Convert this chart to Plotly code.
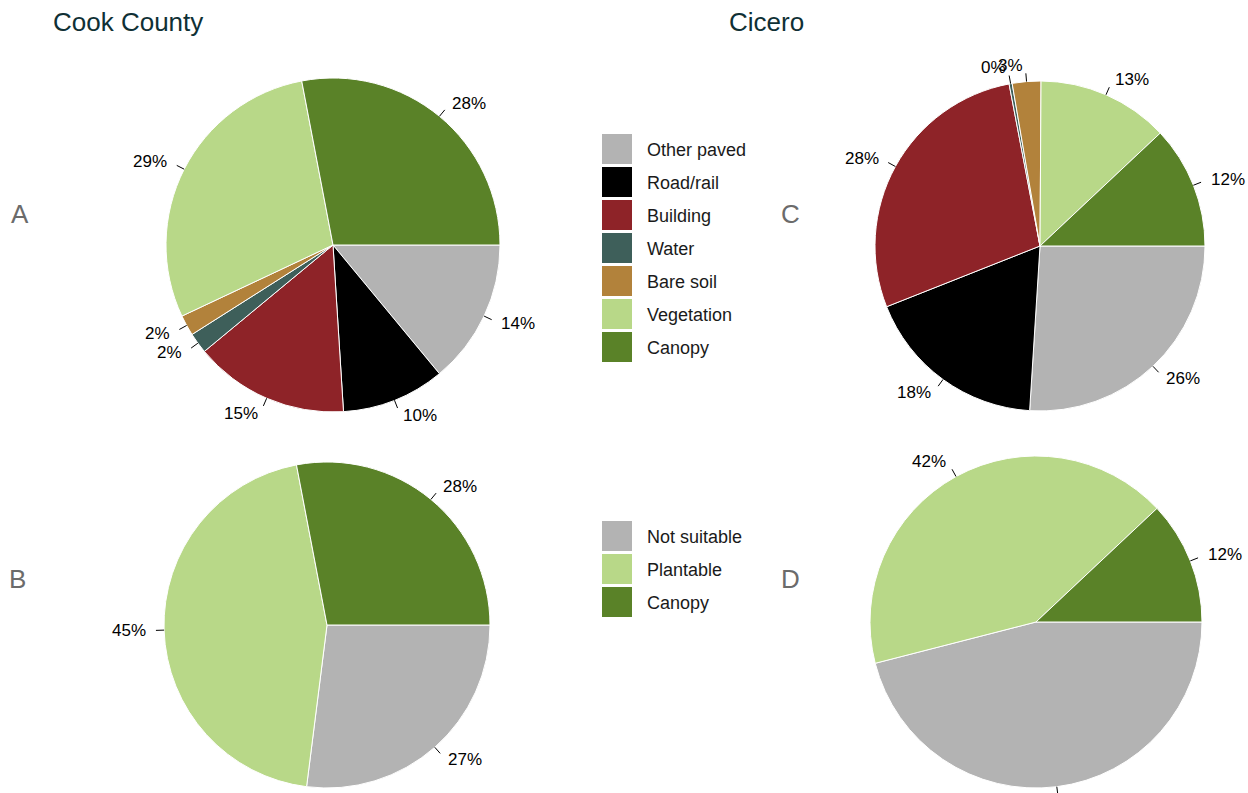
import math

import plotly.graph_objects as go

W, H = 1248, 793

# land cover categories (panels A and C)
COVER_LABELS = ['Other paved', 'Road/rail', 'Building', 'Water',
                'Bare soil', 'Vegetation', 'Canopy']
COVER_COLORS = ['#b3b3b3', '#000000', '#8e2328', '#3e5f5a',
                '#b2823b', '#b8d888', '#5a8228']
cook_cover = [14, 10, 15, 2, 2, 29, 28]
cicero_cover = [26, 18, 28, 0.3, 2.8, 12.9, 12]

# planting potential categories (panels B and D)
PLANT_LABELS = ['Not suitable', 'Plantable', 'Canopy']
PLANT_COLORS = ['#b3b3b3', '#b8d888', '#5a8228']
cook_plant = [27, 45, 28]
cicero_plant = [46, 42, 12]

FONT = 'Liberation Sans, Arial, sans-serif'

# pie placement in pixels: (centre x, centre y, radius)
PIES = [
    (cook_cover, COVER_COLORS, COVER_LABELS, (333, 245, 167)),
    (cook_plant, PLANT_COLORS, PLANT_LABELS, (327, 625, 163)),
    (cicero_cover, COVER_COLORS, COVER_LABELS, (1040, 246, 165)),
    (cicero_plant, PLANT_COLORS, PLANT_LABELS, (1036, 622, 166)),
]


def px(x):
    return x / W


def py(y):
    return 1 - y / H


fig = go.Figure()
shapes = []
annotations = []

for values, colors, labels, (cx, cy, r) in PIES:
    fig.add_trace(go.Pie(
        values=values, labels=labels, sort=False, direction='clockwise',
        rotation=90, textinfo='none', hoverinfo='label+percent',
        marker=dict(colors=colors, line=dict(color='white', width=1)),
        domain=dict(x=[px(cx - r), px(cx + r)], y=[py(cy + r), py(cy - r)]),
        showlegend=False))

    # R-style outside labels with short leader lines
    total = sum(values)
    cum = 0
    for v in values:
        mid = (cum + v / 2) / total
        cum += v
        c, s = math.cos(2 * math.pi * mid), math.sin(2 * math.pi * mid)
        shapes.append(dict(type='line', xref='paper', yref='paper',
                           x0=px(cx + r * c), y0=py(cy + r * s),
                           x1=px(cx + 1.05 * r * c), y1=py(cy + 1.05 * r * s),
                           line=dict(color='black', width=1)))
        annotations.append(dict(x=px(cx + 1.1 * r * c), y=py(cy + 1.1 * r * s),
                                xref='paper', yref='paper', showarrow=False,
                                text=f'{round(v / total * 100)}%',
                                xanchor='left' if c >= 0 else 'right',
                                yanchor='middle',
                                font=dict(family=FONT, size=17, color='black')))


def add_legend(labels, colors, top):
    for i, (lab, col) in enumerate(zip(labels, colors)):
        y0 = top + i * 33
        shapes.append(dict(type='rect', xref='paper', yref='paper',
                           x0=px(602), x1=px(632), y0=py(y0 + 30), y1=py(y0),
                           fillcolor=col, line=dict(width=0)))
        annotations.append(dict(x=px(645), y=py(y0 + 16), xref='paper', yref='paper',
                                text=lab, showarrow=False, xanchor='left',
                                yanchor='middle',
                                font=dict(family=FONT, size=18, color='#1a1a1a')))


add_legend(COVER_LABELS, COVER_COLORS, 134)
add_legend(PLANT_LABELS, PLANT_COLORS, 521)

for text, x, y in [('Cook County', 51, 22), ('Cicero', 727, 22)]:
    annotations.append(dict(x=px(x), y=py(y), xref='paper', yref='paper', text=text,
                            showarrow=False, xanchor='left', yanchor='middle',
                            font=dict(family=FONT, size=26, color='#0f3035')))

for text, x, y in [('A', 9, 214), ('B', 7, 579), ('C', 779, 214), ('D', 779, 579)]:
    annotations.append(dict(x=px(x), y=py(y), xref='paper', yref='paper', text=text,
                            showarrow=False, xanchor='left', yanchor='middle',
                            font=dict(family=FONT, size=26, color='#6b6b6b')))

fig.update_layout(width=W, height=H, margin=dict(l=0, r=0, t=0, b=0),
                  paper_bgcolor='white', plot_bgcolor='white',
                  shapes=shapes, annotations=annotations)

# drop the default page margin so the figure fills the window exactly
fig.write_html('out.html', config={'displayModeBar': False},
               post_script="document.body.style.margin = '0';"
                           "document.body.style.overflow = 'hidden';")
